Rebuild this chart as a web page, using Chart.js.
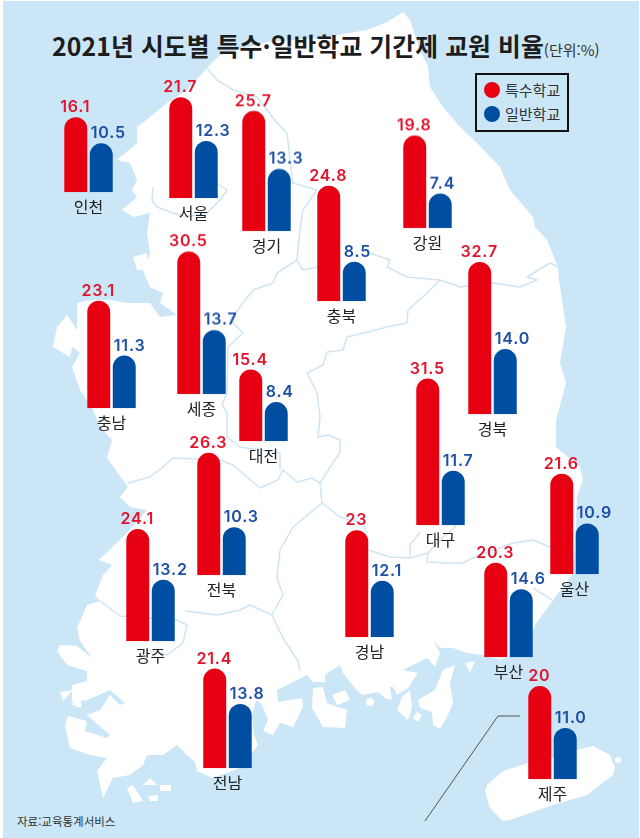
<!DOCTYPE html>
<html lang="ko">
<head>
<meta charset="utf-8">
<title>2021년 시도별 특수·일반학교 기간제 교원 비율</title>
<script src="https://cdn.jsdelivr.net/npm/chart.js@4"></script>
<style>
html,body{margin:0;padding:0;background:#fff;}
body{width:640px;height:838px;overflow:hidden;font-family:"Noto Sans CJK KR","Noto Sans",sans-serif;}
#stage{position:relative;width:640px;height:838px;overflow:hidden;}
#sea{position:absolute;left:3px;top:1px;width:636px;height:837px;background:#CAE6F7;}
#map{position:absolute;left:0;top:0;}
.cell{position:absolute;pointer-events:none;}
#title{position:absolute;left:52px;top:27px;white-space:nowrap;font-weight:700;font-size:24.8px;line-height:36px;color:#1d1d1d;letter-spacing:.1px;}
#title small{font-weight:400;font-size:15px;color:#333;letter-spacing:0;margin-left:0;}
#legend{position:absolute;left:475px;top:73px;width:90px;height:55px;border:2px solid #111;}
#legend div{position:absolute;left:28px;font-size:15px;line-height:20px;color:#333;white-space:nowrap;}
#legend i{position:absolute;left:-21px;top:2px;width:16px;height:16px;border-radius:50%;}
#source{position:absolute;left:17px;top:813px;font-size:11.5px;line-height:17px;color:#333;white-space:nowrap;}
</style>
</head>
<body>
<div id="stage">
<div id="sea"></div>
<svg id="map" width="640" height="838" viewBox="0 0 640 838">
<g fill="#fff">
<polygon points="220,55 267,42 320,38 367,30 387,22 403,12 410,20 420,50 428,67 430,87 443,107 460,127 477,143 500,167 510,190 533,217 535,227 547,240 558,267 559,280 562,300 566,327 560,363 566,383 556,420 556,447 580,467 583,480 577,497 575,540 572,575 557,595 548,607 535,625 530,640 515,655 500,660 483,655 467,653 453,648 440,648 433,640 440,653 435,667 427,658 403,670 418,673 408,688 397,695 393,687 390,687 392,700 385,698 378,692 362,695 355,688 343,673 340,665 325,675 325,682 313,682 307,675 277,690 278,702 302,698 303,707 293,727 280,723 273,735 263,731 268,720 262,705 256,700 252,715 254,735 258,745 250,755 240,768 213,778 197,771 195,762 187,755 177,745 163,755 147,755 143,765 130,775 113,778 103,798 97,771 107,758 90,755 70,748 65,725 68,716 87,721 85,731 107,738 110,735 87,715 100,710 110,695 120,705 125,703 110,690 87,700 80,701 73,706 72,698 72,685 87,681 87,671 67,665 57,651 60,645 77,646 92,658 80,641 77,628 87,605 100,601 95,595 103,575 112,565 99,560 127,533 147,510 130,507 120,497 128,487 107,458 112,440 100,427 93,410 80,390 72,367 80,353 72,347 70,357 53,347 57,327 67,315 77,330 77,303 90,300 110,300 127,303 150,303 160,317 177,315 160,303 163,293 150,287 143,270 150,253 147,233 150,213 133,217 122,210 137,197 132,190 137,180 130,163 117,160 137,143 137,127 150,117 167,103 187,90 207,68"/>
<polygon points="485,791 487,785 503,771 528,763 553,758 577,750 593,746 610,755 615,768 613,775 587,795 553,805 510,820 503,821 490,808"/>
<circle cx="618" cy="760" r="3"/>
<polygon points="455,665 443,670 435,690 418,700 420,708 432,712 433,725 440,729 447,717 453,703 450,683"/>
<polygon points="417,712 422,715 418,722 413,718"/>
<polygon points="465,663 475,661 470,673"/>
<circle cx="370" cy="702" r="4"/>
<polygon points="313,688 323,687 327,703 332,705 347,710 345,728 323,727 312,708"/>
<polygon points="332,695 345,690 350,700 337,705"/>
<polygon points="397,710 408,720 412,707 410,690 402,697"/>
<polygon points="133,257 147,253 147,270 137,270"/>
<polygon points="127,788 133,785 143,801 133,803"/>
<polygon points="143,785 150,778 157,785"/>
<polygon points="160,785 171,785 171,791 160,791"/>
<polygon points="148,796 158,795 158,801 150,801"/>
<polygon points="60,692 73,690 63,701"/>
<polygon points="73,698 80,697 82,707 76,707"/>
</g>
<g fill="none" stroke="#CFE5F4" stroke-width="1.5" stroke-linejoin="round">
<polyline points="207,68 217,80 233,90 257,97 277,123 287,133 290,160 293,183 317,190 303,210 300,230 297,260 303,270 318,267"/>
<polyline points="153,187 152,200 157,207 173,213 187,217 207,213 220,200 227,190 217,183"/>
<polyline points="370,253 390,260 387,267 407,277 440,280 460,287 492,283 520,287 537,280 527,277 550,263 558,267"/>
<polyline points="440,280 427,293 408,310 407,323 387,327 368,332 347,337 343,350 327,352 323,365 307,373 317,393 320,417 318,437 328,435 340,440 340,452 320,483 322,503 340,517 363,523 367,533"/>
<polyline points="128,483 150,477 163,467 173,458 220,460 233,465 260,488 278,480 283,470 297,482 312,478 320,483"/>
<polyline points="297,260 277,273 273,283 253,290 240,307 230,320 243,333 228,347 227,393 222,405 227,413 227,437 240,447 280,453 280,470"/>
<polyline points="100,601 120,616 177,620 187,625 183,643 167,655 150,650"/>
<polyline points="185,611 217,615 240,610 250,605 272,615 283,595 277,578 280,550 293,527 322,503"/>
<polyline points="272,615 283,638 298,661 300,671"/>
<polyline points="368,550 390,557 410,558 428,553 427,562 447,563 462,563 480,555 513,543 533,540 550,547"/>
<polyline points="410,558 410,545 420,532"/>
<polyline points="428,553 440,540 455,527 465,503"/>
<polyline points="533,588 552,600"/>
</g>
<polyline points="520,716 498,716 425,821" fill="none" stroke="#555" stroke-width="1"/>
</svg>
<div id="title">2021년 시도별 특수·일반학교 기간제 교원 비율<small>(단위:%)</small></div>
<div id="legend">
<div style="top:5px"><i style="background:#E60012"></i>특수학교</div>
<div style="top:29px"><i style="background:#004EA2"></i>일반학교</div>
</div>
<div id="source">자료:교육통계서비스</div>
</div>
<script>
const seriesNames = ["특수학교", "일반학교"];
const regions = ["인천","서울","경기","충북","강원","경북","충남","세종","대전","전북","광주","전남","대구","경남","울산","부산","제주"];
const specialSchool = [16.1,21.7,25.7,24.8,19.8,32.7,23.1,30.5,15.4,26.3,24.1,21.4,31.5,23,21.6,20.3,20];
const generalSchool = [10.5,12.3,13.3,8.5,7.4,14.0,11.3,13.7,8.4,10.3,13.2,13.8,11.7,12.1,10.9,14.6,11.0];
// layout only: left edge of the first bar and baseline of each small chart on the map
const cellLeft = [64,169.3,242.3,317.5,403.3,468.3,87,177.7,239.3,197.7,126,203,416.3,345.3,550.7,484.3,528.3];
const cellBase = [192.3,198.3,230.7,301.3,227.7,414.3,408.3,393.7,441.3,575,641,768.3,525,637,574,657,779.3];

const Y_MAX = 40, PLOT_H = 186.4, TITLE_H = 24, PAD_L = 25, PLOT_W = 51, CANVAS_W = 111;
const barColors = ["#E60012", "#004EA2"];
const labelColors = ["#E1142C", "#1C50A3"];

const valueLabels = {
  id: "valueLabels",
  afterDatasetsDraw(chart) {
    const { ctx } = chart;
    const bars = chart.getDatasetMeta(0).data;
    const values = chart.data.datasets[0].data;
    ctx.save();
    ctx.font = '600 16px Inter,"Noto Sans",sans-serif';
    ctx.letterSpacing = "0.8px";
    ctx.textBaseline = "alphabetic";
    bars.forEach((bar, i) => {
      ctx.fillStyle = labelColors[i];
      if (i === 0) {
        ctx.textAlign = "center";
        ctx.fillText(String(values[i]), bar.x - 0.5, bar.y - 5);
      } else {
        ctx.textAlign = "left";
        ctx.fillText(values[i].toFixed(1), bar.x - bar.width / 2 + 1, bar.y - 5);
      }
    });
    ctx.restore();
  }
};

const stage = document.getElementById("stage");
regions.forEach((name, i) => {
  const cell = document.createElement("div");
  cell.className = "cell";
  cell.style.left = (cellLeft[i] - PAD_L - 1.25) + "px";
  cell.style.top = (cellBase[i] - PLOT_H) + "px";
  cell.style.width = CANVAS_W + "px";
  cell.style.height = (PLOT_H + TITLE_H) + "px";
  const canvas = document.createElement("canvas");
  cell.appendChild(canvas);
  stage.appendChild(cell);
  new Chart(canvas, {
    type: "bar",
    data: {
      labels: seriesNames,
      datasets: [{
        label: name,
        data: [specialSchool[i], generalSchool[i]],
        backgroundColor: barColors,
        borderWidth: 0,
        borderRadius: { topLeft: 11.5, topRight: 11.5, bottomLeft: 0, bottomRight: 0 },
        borderSkipped: false,
        categoryPercentage: 1,
        barPercentage: 0.9
      }]
    },
    options: {
      responsive: true,
      maintainAspectRatio: false,
      animation: false,
      events: [],
      layout: { padding: { left: PAD_L, right: CANVAS_W - PAD_L - PLOT_W, top: 0, bottom: 0 } },
      plugins: { legend: { display: false }, tooltip: { enabled: false } },
      scales: {
        x: {
          grid: { display: false, drawTicks: false },
          border: { display: false },
          ticks: { display: false },
          title: {
            display: true,
            text: name,
            color: "#222",
            font: { family: '"Noto Sans CJK KR"', size: 16 },
            padding: { top: 5, bottom: 0 }
          }
        },
        y: { display: false, min: 0, max: Y_MAX }
      }
    },
    plugins: [valueLabels]
  });
});
</script>
</body>
</html>
